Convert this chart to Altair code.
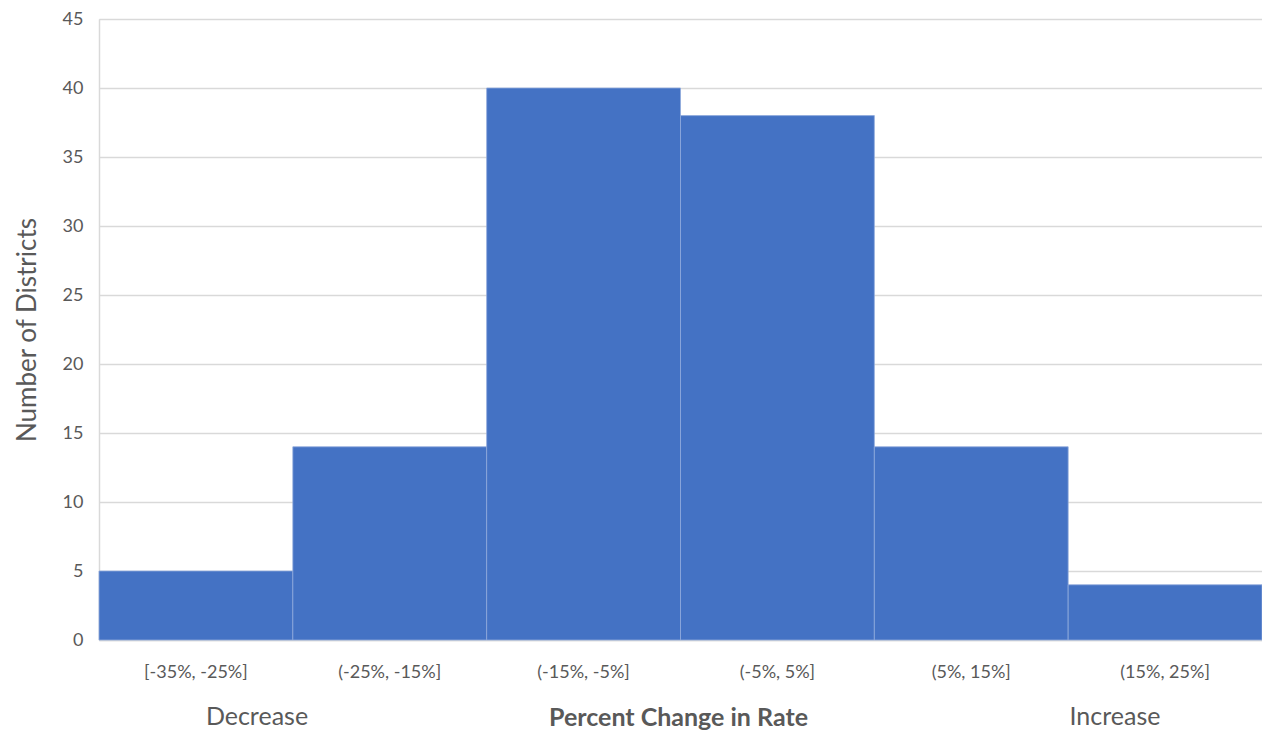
import altair as alt
import pandas as pd

categories = ["[-35%, -25%]", "(-25%, -15%]", "(-15%, -5%]", "(-5%, 5%]", "(5%, 15%]", "(15%, 25%]"]
counts = [5, 14, 40, 38, 14, 4]
side_labels = ["Decrease", "Increase"]

df = pd.DataFrame({"bin": categories, "count": counts})
FONT = "Lato"
GREY = "#595959"

bars = alt.Chart(df).mark_bar(color="#4472C4", stroke="#8FAADC", strokeWidth=0.8).encode(
    x=alt.X("bin:N", sort=categories,
            scale=alt.Scale(paddingInner=0, paddingOuter=0),
            axis=alt.Axis(title="Percent Change in Rate", labelAngle=0, ticks=False,
                          labelPadding=23, labelFontSize=18, labelColor=GREY, labelFont=FONT,
                          domainColor="#D9D9D9", domainWidth=1.5,
                          titleFont=FONT, titleFontSize=25, titleFontWeight="bold", titleColor=GREY,
                          titleX=579, titleY=77, titleBaseline="middle", titleAlign="center")),
    y=alt.Y("count:Q", scale=alt.Scale(domain=[0, 45]),
            axis=alt.Axis(title="Number of Districts", values=list(range(0, 50, 5)), ticks=False,
                          labelPadding=16, labelFontSize=18, labelColor=GREY, labelFont=FONT,
                          domainColor="#D9D9D9", domainWidth=1.5, gridColor="#D9D9D9", gridWidth=1.5,
                          titleFont=FONT, titleFontSize=26, titleFontWeight="normal", titleColor=GREY,
                          titlePadding=22)),
)

dec = alt.Chart(pd.DataFrame({"t": [side_labels[0]]})).mark_text(
    font=FONT, fontSize=25, color=GREY, align="center", baseline="middle"
).encode(text="t:N", x=alt.value(158), y=alt.value(698))
inc = alt.Chart(pd.DataFrame({"t": [side_labels[1]]})).mark_text(
    font=FONT, fontSize=25, color=GREY, align="center", baseline="middle"
).encode(text="t:N", x=alt.value(1016), y=alt.value(698))

chart = alt.layer(bars, dec, inc).properties(
    width=1163, height=621,
    autosize=alt.AutoSizeParams(type="none"),
    padding={"left": 91, "top": 11, "right": 0, "bottom": 92},
).configure_view(stroke=None).configure(background="white")

chart.save("out.html", embed_options={"renderer": "svg", "actions": False})
